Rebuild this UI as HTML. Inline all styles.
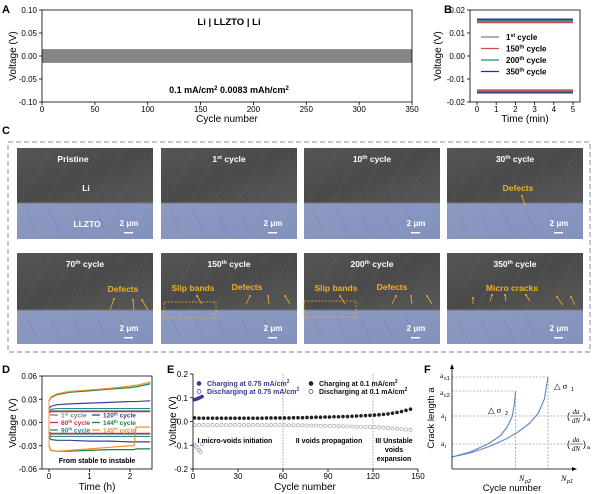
<!DOCTYPE html>
<html><head><meta charset="utf-8"><style>
html,body{margin:0;padding:0;background:#fff;}
svg{display:block;font-family:"Liberation Sans",sans-serif;}
</style></head><body>
<svg id="fig" width="600" height="494" viewBox="0 0 600 494" xmlns="http://www.w3.org/2000/svg">
<defs>
<linearGradient id="gLi" x1="0" y1="0" x2="1" y2="1"><stop offset="0" stop-color="#555"/><stop offset="0.5" stop-color="#4a4a4a"/><stop offset="1" stop-color="#585858"/></linearGradient>
<linearGradient id="gLL" x1="0" y1="0" x2="1" y2="1"><stop offset="0" stop-color="#8c9ac2"/><stop offset="1" stop-color="#8392bd"/></linearGradient>
</defs>
<g font-weight="bold" font-size="11" fill="#000">
<text x="2" y="13">A</text>
<text x="444" y="13">B</text>
<text x="2" y="134">C</text>
<text x="2" y="373">D</text>
<text x="167" y="373">E</text>
<text x="424" y="373">F</text>
</g>
<g id="pA"></g>
<g id="pB"></g>
<g id="pC">
<rect x="8" y="142" width="582" height="210" fill="none" stroke="#8ea0cc" stroke-width="1.2" stroke-dasharray="5,3"/>
</g>
<g id="pD"></g>
<g id="pE"></g>
<g id="pF"></g>
</svg>
<script>
// ---------- data ----------
const aCycles=[0,350];
const aUpper=[0.015,0.015];
const aLower=[-0.015,-0.015];
const aTicksX=[0,50,100,150,200,250,300,350];
const aTicksY=[0.10,0.05,0.00,-0.05,-0.10];

const bLabels=["1st","150th","200th","350th"];
const bCharge=[0.0150,0.0145,0.0155,0.0160];
const bDischarge=[-0.0150,-0.0148,-0.0155,-0.0160];
const bTime=[0,5];
const bTicksX=[0,1,2,3,4,5];
const bTicksY=[0.02,0.01,0.00,-0.01,-0.02];

const dLabels=["1st","60th","90th","120th","144th","145th"];
const dTime=[0,0.05,0.2,0.5,1,1.5,2,2.1,2.15,2.5];
const dCharge1=[0.013,0.015,0.015,0.015,0.015,0.015,0.015,0.015,0.015,0.015];
const dCharge60=[0.012,0.014,0.014,0.014,0.014,0.014,0.014,0.014,0.014,0.014];
const dCharge90=[0.015,0.017,0.018,0.018,0.018,0.018,0.018,0.018,0.018,0.018];
const dCharge120=[0.018,0.021,0.023,0.024,0.025,0.026,0.027,0.027,0.027,0.028];
const dCharge144=[0.028,0.032,0.036,0.039,0.041,0.043,0.045,0.046,0.046,0.050];
const dCharge145=[0.028,0.033,0.037,0.040,0.042,0.044,0.047,0.048,0.048,0.052];
const dDis1=[-0.013,-0.015,-0.015,-0.015,-0.015,-0.015,-0.015,-0.015,-0.015,-0.015];
const dDis60=[-0.012,-0.014,-0.014,-0.014,-0.014,-0.014,-0.014,-0.014,-0.014,-0.014];
const dDis90=[-0.015,-0.018,-0.018,-0.018,-0.018,-0.018,-0.018,-0.018,-0.018,-0.018];
const dDis120=[-0.018,-0.022,-0.023,-0.023,-0.024,-0.024,-0.025,-0.025,-0.025,-0.025];
const dDis144=[-0.030,-0.036,-0.037,-0.037,-0.036,-0.035,-0.035,-0.035,-0.034,-0.034];
const dDis145=[-0.030,-0.036,-0.037,-0.036,-0.034,-0.032,-0.030,-0.030,-0.006,-0.006];
const dTicksX=[0,1,2];
const dTicksY=[0.06,0.03,0.00,-0.03,-0.06];

const eCycles=[1,4,7,10,13,16,19,22,25,28,31,34,37,40,43,46,49,52,55,58,61,64,67,70,73,76,79,82,85,88,91,94,97,100,103,106,109,112,115,118,121,124,127,130,133,136,139,142,145];
const eCharge=[0.015,0.014,0.014,0.014,0.014,0.014,0.014,0.014,0.014,0.014,0.014,0.014,0.014,0.014,0.014,0.014,0.015,0.015,0.015,0.015,0.015,0.015,0.016,0.016,0.016,0.017,0.017,0.018,0.018,0.019,0.019,0.020,0.020,0.021,0.021,0.022,0.023,0.024,0.025,0.026,0.027,0.028,0.030,0.032,0.035,0.038,0.042,0.047,0.052];
const eDischarge=[-0.015,-0.015,-0.015,-0.015,-0.015,-0.015,-0.015,-0.015,-0.015,-0.015,-0.015,-0.015,-0.015,-0.015,-0.015,-0.015,-0.015,-0.015,-0.015,-0.015,-0.016,-0.016,-0.016,-0.016,-0.016,-0.017,-0.017,-0.017,-0.018,-0.018,-0.019,-0.019,-0.020,-0.020,-0.021,-0.021,-0.022,-0.022,-0.023,-0.024,-0.024,-0.025,-0.026,-0.027,-0.029,-0.030,-0.032,-0.034,-0.035];
const eHiCycles=[1,2,3,4,5,6];
const eHiCharge=[0.092,0.094,0.096,0.099,0.102,0.105];
const eHiDischarge=[-0.098,-0.105,-0.112,-0.12,-0.128,-0.095];
const eTicksX=[0,30,60,90,120,150];
const eTicksY=[0.2,0.1,0.0,-0.1,-0.2];

const fN1=[0,0.15,0.3,0.45,0.55,0.65,0.72,0.77,0.8];
const fA1=[0.12,0.16,0.22,0.30,0.37,0.46,0.56,0.7,0.92];
const fN2=[0,0.15,0.3,0.4,0.46,0.5,0.52,0.53];
const fA2=[0.12,0.17,0.25,0.33,0.42,0.52,0.65,0.78];

// ---------- helpers ----------
const NS="http://www.w3.org/2000/svg";
function el(parent,tag,attrs){const e=document.createElementNS(NS,tag);for(const k in attrs)e.setAttribute(k,attrs[k]);parent.appendChild(e);return e;}
function txt(parent,x,y,s,attrs){const t=el(parent,'text',Object.assign({x:x,y:y},attrs||{}));t.textContent=s;return t;}
function sup(parent,x,y,base,s,rest,attrs){const t=el(parent,'text',Object.assign({x:x,y:y},attrs||{}));t.appendChild(document.createTextNode(base));const ts=document.createElementNS(NS,'tspan');ts.setAttribute('baseline-shift','super');ts.setAttribute('font-size','65%');ts.textContent=s;t.appendChild(ts);const r=document.createElementNS(NS,'tspan');r.textContent=rest;t.appendChild(r);return t;}
function fmt(v,d){return (v<0?"-":"")+Math.abs(v).toFixed(d);}

// ---------- Panel A ----------
(function(){
const g=document.getElementById('pA');
const x=c=>42+c/350*370, y=v=>10+(0.1-v)/0.2*92;
let pts=aCycles.map((c,i)=>x(c)+','+y(aUpper[i])).concat(aCycles.slice().reverse().map((c,i)=>x(c)+','+y(aLower[aLower.length-1-i])));
const band=el(g,'polygon',{points:pts.join(' '),fill:'#858585'});


el(g,'rect',{x:42,y:10,width:370,height:92,fill:'none',stroke:'#000','stroke-width':0.8});
aTicksX.forEach(t=>{el(g,'line',{x1:x(t),x2:x(t),y1:102,y2:105,stroke:'#000','stroke-width':0.8});txt(g,x(t),112,String(t),{'font-size':8,'text-anchor':'middle'});});
aTicksY.forEach(t=>{el(g,'line',{x1:39,x2:42,y1:y(t),y2:y(t),stroke:'#000','stroke-width':0.8});txt(g,37,y(t)+3,fmt(t,2),{'font-size':8,'text-anchor':'end'});});
const xl=txt(g,227,122,'Cycle number',{'font-size':10,'text-anchor':'middle'});

const yl=txt(g,0,0,'Voltage (V)',{'font-size':10,'text-anchor':'middle',transform:'translate(16,56) rotate(-90)'});

txt(g,229,25,'Li | LLZTO | Li',{'font-size':9.5,'font-weight':'bold','text-anchor':'middle'});
const t2=el(g,'text',{x:229,y:93,'font-size':9,'font-weight':'bold','text-anchor':'middle'});
t2.innerHTML='0.1 mA/cm<tspan baseline-shift="super" font-size="6">2</tspan> 0.0083 mAh/cm<tspan baseline-shift="super" font-size="6">2</tspan>';
})();

// ---------- Panel B ----------
(function(){
const g=document.getElementById('pB');
const x=t=>477+t/5*96, y=v=>10+(0.02-v)/0.04*92;
const cols=['#808080','#d04848','#2a8a80','#303070'];
bLabels.forEach((l,i)=>{
 const a=el(g,'line',{x1:x(bTime[0]),x2:x(bTime[1]),y1:y(bCharge[i]),y2:y(bCharge[i]),stroke:cols[i],'stroke-width':1.3});
 
 const b=el(g,'line',{x1:x(bTime[0]),x2:x(bTime[1]),y1:y(bDischarge[i]),y2:y(bDischarge[i]),stroke:cols[i],'stroke-width':1.3});
 
 const ly=37+i*11.5;
 const le=el(g,'line',{x1:481,x2:499,y1:ly,y2:ly,stroke:cols[i],'stroke-width':1.3});
 
 const m=l.match(/^(\d+)(\w+)$/);
 sup(g,506,ly+3,m[1],m[2],'  cycle',{'font-size':8,'font-weight':'bold'});
});
el(g,'rect',{x:470,y:10,width:110,height:92,fill:'none',stroke:'#000','stroke-width':0.8});
bTicksX.forEach(t=>{el(g,'line',{x1:x(t),x2:x(t),y1:102,y2:105,stroke:'#000','stroke-width':0.8});txt(g,x(t),112,String(t),{'font-size':8,'text-anchor':'middle'});});
bTicksY.forEach(t=>{el(g,'line',{x1:467,x2:470,y1:y(t),y2:y(t),stroke:'#000','stroke-width':0.8});txt(g,465,y(t)+3,fmt(t,2),{'font-size':8,'text-anchor':'end'});});
txt(g,525,122,'Time (min)',{'font-size':10,'text-anchor':'middle'});
txt(g,0,0,'Voltage (V)',{'font-size':10,'text-anchor':'middle',transform:'translate(441,56) rotate(-90)'});
})();

// ---------- Panel C ----------
(function(){
const g=document.getElementById('pC');
const xs=[17,161,304,447], ys=[148,253], w=136, h=91, split=[55,57];
const titles=[['Pristine','',''],['1','st',' cycle'],['10','th',' cycle'],['30','th',' cycle'],['70','th',' cycle'],['150','th',' cycle'],['200','th',' cycle'],['350','th',' cycle']];
for(let r=0;r<2;r++)for(let c=0;c<4;c++){
 const i=r*4+c, x0=xs[c], y0=ys[r], sp=split[r];
 const gg=el(g,'g',{});
 
 el(gg,'rect',{x:x0,y:y0,width:w,height:sp,fill:'url(#gLi)'});
 el(gg,'rect',{x:x0,y:y0+sp,width:w,height:h-sp,fill:'url(#gLL)'});
 for(let k=0;k<5;k++){el(gg,'line',{x1:x0+4+k*24,y1:y0+sp,x2:x0+4+k*24+30,y2:y0+2,stroke:'#6a6a6a','stroke-width':0.5,opacity:0.6});}
 el(gg,'line',{x1:x0,x2:x0+w,y1:y0+sp,y2:y0+sp,stroke:'#777','stroke-width':1});
 for(let k=0;k<5;k++){el(gg,'line',{x1:x0+10+k*23,y1:y0+sp+8,x2:x0+20+k*23,y2:y0+h-6,stroke:'#6f7ea8','stroke-width':0.6,opacity:0.7});}
 const t=titles[i];
 if(t[1]) sup(gg,x0+w/2,y0+14,t[0],t[1],t[2],{'font-size':8.5,'font-weight':'bold',fill:'#fff','text-anchor':'middle'});
 else txt(gg,x0+w/2-12,y0+14,t[0],{'font-size':8.5,'font-weight':'bold',fill:'#fff','text-anchor':'middle'});
 txt(gg,x0+w-24,y0+h-13,'2 μm',{'font-size':8,'font-weight':'bold',fill:'#fff','text-anchor':'middle'});
 el(gg,'rect',{x:x0+w-29,y:y0+h-7,width:9,height:1.5,fill:'#fff'});
}
txt(g,86,191,'Li',{'font-size':8.5,'font-weight':'bold',fill:'#fff','text-anchor':'middle'});
txt(g,87,227,'LLZTO',{'font-size':8.5,'font-weight':'bold',fill:'#fff','text-anchor':'middle'});
const Y='#f0b020';
function lab(x,y,s){const t=txt(g,x,y,s,{'font-size':8.5,'font-weight':'bold',fill:Y,'text-anchor':'middle'});}
function arr(x1,y1,x2,y2){el(g,'line',{x1:x1,y1:y1,x2:x2,y2:y2,stroke:Y,'stroke-width':0.8});el(g,'circle',{cx:x2,cy:y2,r:1,fill:Y});}
lab(518,191,'Defects');arr(525,206,522,196);
lab(123,292,'Defects');arr(110,310,114,299);arr(134,310,133,300);arr(148,310,142,300);
lab(193,291,'Slip bands');arr(202,304,197,296);
lab(247,290,'Defects');arr(246,304,250,296);arr(269,304,268,296);arr(290,304,285,296);
lab(336,291,'Slip bands');arr(345,304,340,296);
lab(392,290,'Defects');arr(392,304,396,296);arr(412,304,411,296);arr(432,304,427,296);
lab(512,291,'Micro cracks');arr(490,301,492,295);arr(506,301,505,295);arr(530,301,526,295);arr(563,305,557,297);arr(575,305,571,297);arr(473,304,473,298);
el(g,'rect',{x:164,y:302,width:52,height:16,fill:'none',stroke:Y,'stroke-width':0.8,'stroke-dasharray':'2,1.5'});
el(g,'rect',{x:304,y:301,width:52,height:16,fill:'none',stroke:Y,'stroke-width':0.8,'stroke-dasharray':'2,1.5'});
})();

// ---------- Panel D ----------
(function(){
const g=document.getElementById('pD');
const x=t=>49+t*40.5, y=v=>376+(0.06-v)/0.12*93;
const series=[[dCharge1,dDis1,'#808080'],[dCharge60,dDis60,'#c83040'],[dCharge90,dDis90,'#2a8a90'],[dCharge120,dDis120,'#404090'],[dCharge144,dDis144,'#1e8040'],[dCharge145,dDis145,'#f09030']];
series.forEach((s,i)=>{
 const p1=el(g,'polyline',{points:dTime.map((t,j)=>x(t)+','+y(s[0][j])).join(' '),fill:'none',stroke:s[2],'stroke-width':1.2});
 
 const p2=el(g,'polyline',{points:dTime.map((t,j)=>x(t)+','+y(s[1][j])).join(' '),fill:'none',stroke:s[2],'stroke-width':1.2});
 
 el(g,'line',{x1:x(0),x2:x(0),y1:y(s[0][0]),y2:y(s[1][0]),stroke:s[2],'stroke-width':1});
});
dLabels.forEach((l,i)=>{
 const col=i<3?0:1, row=i%3, lx=col?92:50, ly=417+row*7.5;
 const le=el(g,'line',{x1:lx,x2:lx+8,y1:ly-2,y2:ly-2,stroke:series[i][2],'stroke-width':1.3});
 
 const m=l.match(/^(\d+)(\w+)$/);
 sup(g,lx+11,ly+0.5,m[1],m[2],' cycle',{'font-size':6.5,'font-weight':'bold',fill:series[i][2]});
});
txt(g,97,463,'From stable to instable',{'font-size':7,'font-weight':'bold','text-anchor':'middle'});
el(g,'rect',{x:42,y:376,width:110,height:93,fill:'none',stroke:'#000','stroke-width':0.8});
dTicksX.forEach(t=>{el(g,'line',{x1:x(t),x2:x(t),y1:469,y2:472,stroke:'#000','stroke-width':0.8});txt(g,x(t),479,String(t),{'font-size':8,'text-anchor':'middle'});});
dTicksY.forEach(t=>{el(g,'line',{x1:39,x2:42,y1:y(t),y2:y(t),stroke:'#000','stroke-width':0.8});txt(g,37,y(t)+3,fmt(t,2),{'font-size':8,'text-anchor':'end'});});
txt(g,97,490,'Time (h)',{'font-size':10,'text-anchor':'middle'});
txt(g,0,0,'Voltage (V)',{'font-size':10,'text-anchor':'middle',transform:'translate(16,423) rotate(-90)'});
})();

// ---------- Panel E ----------
(function(){
const g=document.getElementById('pE');
const x=c=>193+c/150*225, y=v=>374+(0.2-v)/0.4*95;
[60,120].forEach(c=>el(g,'line',{x1:x(c),x2:x(c),y1:374,y2:469,stroke:'#666','stroke-width':0.6,'stroke-dasharray':'1.5,1.5'}));
eCycles.forEach((c,i)=>{
 const a=el(g,'circle',{cx:x(c),cy:y(eCharge[i]),r:1.8,fill:'#222'});
 
 const b=el(g,'circle',{cx:x(c),cy:y(eDischarge[i]),r:1.6,fill:'#fff',stroke:'#999','stroke-width':0.6});
 
});
eHiCycles.forEach((c,i)=>{
 const a=el(g,'circle',{cx:x(c),cy:y(eHiCharge[i]),r:1.8,fill:'#3a3a90'});
 
 const b=el(g,'circle',{cx:x(c),cy:y(eHiDischarge[i]),r:1.6,fill:'#fff',stroke:'#8888bb','stroke-width':0.6});
 
});
el(g,'line',{x1:193,x2:193,y1:374,y2:469,stroke:'#000','stroke-width':0.8});
el(g,'line',{x1:193,x2:418,y1:469,y2:469,stroke:'#000','stroke-width':0.8});
eTicksX.forEach(t=>{el(g,'line',{x1:x(t),x2:x(t),y1:469,y2:472,stroke:'#000','stroke-width':0.8});txt(g,x(t),479,String(t),{'font-size':8,'text-anchor':'middle'});});
eTicksY.forEach(t=>{el(g,'line',{x1:190,x2:193,y1:y(t),y2:y(t),stroke:'#000','stroke-width':0.8});txt(g,188,y(t)+3,fmt(t,1),{'font-size':8,'text-anchor':'end'});});
txt(g,305,490,'Cycle number',{'font-size':10,'text-anchor':'middle'});
txt(g,0,0,'Voltage (V)',{'font-size':10,'text-anchor':'middle',transform:'translate(176,421) rotate(-90)'});
function leg(cx,cy,fill,stroke,s,col){el(g,'circle',{cx:cx,cy:cy-2.5,r:2,fill:fill,stroke:stroke,'stroke-width':0.7});
 const t=el(g,'text',{x:cx+8,y:cy,'font-size':7,'font-weight':'bold',fill:col});t.innerHTML=s+' mA/cm<tspan baseline-shift="super" font-size="5">2</tspan>';
 }
leg(199,386,'#3a3a90','#3a3a90','Charging at 0.75','#3a3a90');
leg(199,394,'#fff','#3a3a90','Discharging at 0.75','#3a3a90');
leg(311,386,'#222','#222','Charging at 0.1','#111');
leg(311,394,'#fff','#444','Discharging at 0.1','#111');
const pf={'font-size':7,'font-weight':'bold','text-anchor':'middle'};
txt(g,235,443,'I micro-voids initiation',pf);
txt(g,329,443,'II voids propagation',pf);
txt(g,394,443,'III Unstable',pf);txt(g,394,452,'voids',pf);txt(g,394,461,'expansion',pf);
})();

// ---------- Panel F ----------
(function(){
const g=document.getElementById('pF');
const x=n=>452+n*120, y=a=>469-a*100;
const c='#5b86c8';
const p1=el(g,'polyline',{points:fN1.map((n,i)=>x(n)+','+y(fA1[i])).join(' '),fill:'none',stroke:c,'stroke-width':1.1,'stroke-linejoin':'round'});

const p2=el(g,'polyline',{points:fN2.map((n,i)=>x(n)+','+y(fA2[i])).join(' '),fill:'none',stroke:c,'stroke-width':1.1,'stroke-linejoin':'round'});

const d={stroke:'#777','stroke-width':0.6,'stroke-dasharray':'2,1.5'};
const a1=fA1[fA1.length-1], a2=fA2[fA2.length-1], n1=fN1[fN1.length-1], n2=fN2[fN2.length-1];
el(g,'line',Object.assign({x1:452,x2:x(n1),y1:y(a1),y2:y(a1)},d));
el(g,'line',Object.assign({x1:x(n1),x2:x(n1),y1:y(a1),y2:469},d));
el(g,'line',Object.assign({x1:452,x2:x(n2),y1:y(a2),y2:y(a2)},d));
el(g,'line',Object.assign({x1:x(n2),x2:x(n2),y1:y(a2),y2:469},d));
el(g,'line',Object.assign({x1:452,x2:568,y1:y(0.53),y2:y(0.53)},d));
el(g,'line',Object.assign({x1:452,x2:568,y1:y(0.25),y2:y(0.25)},d));
el(g,'line',{x1:452,x2:452,y1:469,y2:367,stroke:'#000','stroke-width':0.8});
el(g,'polygon',{points:'452,364 450,369 454,369',fill:'#000'});
el(g,'line',{x1:452,x2:574,y1:469,y2:469,stroke:'#000','stroke-width':0.8});
el(g,'polygon',{points:'577,469 572,467 572,471',fill:'#000'});
const sf={'font-size':7.5,'font-family':'Liberation Serif, serif'};
txt(g,440,378,'a',sf);txt(g,444,380,'c1',{'font-size':5.5});
txt(g,440,395,'a',sf);txt(g,444,397,'c2',{'font-size':5.5});
txt(g,441,418,'a',sf);txt(g,445,420,'j',{'font-size':5.5});
txt(g,441,446,'a',sf);txt(g,445,448,'i',{'font-size':5.5});
txt(g,554,389,'△ σ',{'font-size':8.5,'font-family':'Liberation Serif, serif'});txt(g,571,391,'1',{'font-size':5.5});
txt(g,488,413,'△ σ',{'font-size':8.5,'font-family':'Liberation Serif, serif'});txt(g,505,415,'2',{'font-size':5.5});
txt(g,519,481,'N',{'font-size':8,'font-style':'italic','font-family':'Liberation Serif, serif'});txt(g,525,483,'p2',{'font-size':5.5,'font-style':'italic'});
txt(g,561,481,'N',{'font-size':8,'font-style':'italic','font-family':'Liberation Serif, serif'});txt(g,567,483,'p1',{'font-size':5.5,'font-style':'italic'});
function frac(yb,sub){txt(g,567,yb,'(',{'font-size':9});txt(g,576,yb-5,'da',{'font-size':7,'font-style':'italic','font-family':'Liberation Serif, serif','text-anchor':'middle'});
 el(g,'line',{x1:570,x2:583,y1:yb-3,y2:yb-3,stroke:'#000','stroke-width':0.5});
 txt(g,576,yb+4,'dN',{'font-size':7,'font-style':'italic','font-family':'Liberation Serif, serif','text-anchor':'middle'});
 txt(g,583,yb,')',{'font-size':9});txt(g,587,yb+2,sub,{'font-size':5.5});}
frac(419,'a');frac(447,'a');
txt(g,512,491,'Cycle number',{'font-size':9.5,'text-anchor':'middle'});
txt(g,0,0,'Crack length a',{'font-size':9.5,'text-anchor':'middle',transform:'translate(434,418) rotate(-90)'});
})();
</script>
</body></html>
